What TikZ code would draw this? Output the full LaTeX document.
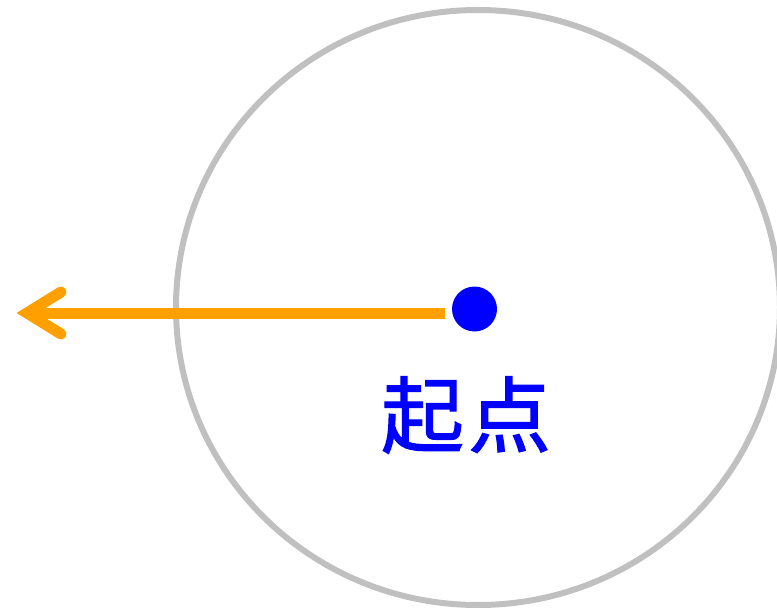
\documentclass[tikz,border=0pt]{standalone}
\usepackage{fontspec}
\newfontfamily\cjk{Noto Sans CJK SC}[BoldFont={Noto Sans CJK SC}, BoldFeatures={FakeBold=1.5}]
\definecolor{ringgray}{HTML}{C0C0C0}
\definecolor{arroworange}{HTML}{FFA000}
\tikzset{
  ring/.style={draw=ringgray, line width=6pt},
  startdot/.style={circle, fill=blue, inner sep=0pt, minimum size=45pt},
  arrowline/.style={draw=arroworange, line width=11pt},
  arrowhead/.style={draw=arroworange, line width=11pt, line cap=round, line join=miter},
  labeltext/.style={text=blue, inner sep=0pt, font=\cjk\bfseries\fontsize{83}{83}\selectfont}
}
\begin{document}
\begin{tikzpicture}[x=1pt,y=-1pt]
\useasboundingbox (0,0) rectangle (777,610);
\clip (0,0) rectangle (777,610);
\draw[ring] (478,307.5) ellipse [x radius=302, y radius=297.5];
\node[startdot] (start) at (474.5,309) {};
\coordinate (shaftend) at (445,313);
\coordinate (tip) at (27,313);
\draw[arrowline] (shaftend) -- (tip);
\draw[arrowhead] (tip) ++(34,-21) -- (tip) -- ++(34,21);
\node[labeltext] (label) at (466,415) {起\hspace{4pt}点};
\end{tikzpicture}
\end{document}
